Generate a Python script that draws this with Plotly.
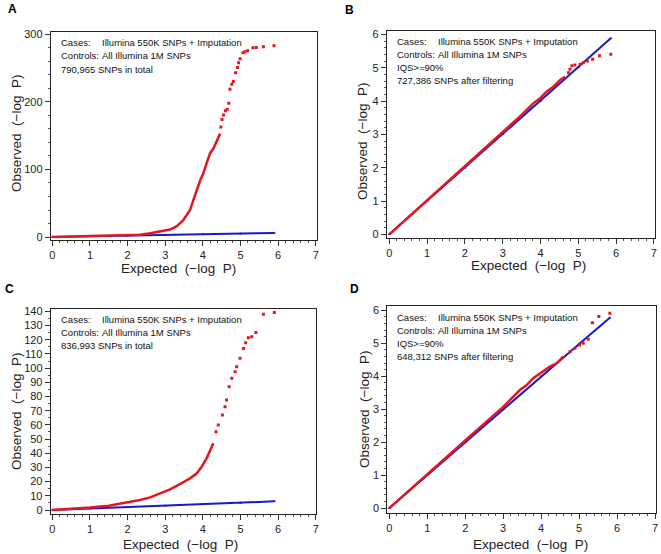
import plotly.graph_objects as go

# panel A
a_red_x = [0, 0.5, 1.0, 1.5, 2.0, 2.33, 2.6, 2.86, 3.13, 3.31, 3.48, 3.66, 3.75, 3.84, 3.93, 4.01, 4.10, 4.19, 4.28, 4.37, 4.46]
a_red_y = [0, 0.8, 1.5, 2.2, 3.0, 3.4, 5.5, 8, 11, 16, 25, 40, 55, 69.5, 84, 94, 109, 124, 131, 143.5, 153]
a_pts_x = [4.48, 4.51, 4.55, 4.60, 4.65, 4.69, 4.72, 4.77, 4.81, 4.87, 4.92, 4.95, 4.99, 5.07, 5.12, 5.19, 5.33, 5.42, 5.61, 5.89]
a_pts_y = [163, 174, 180.5, 187, 189, 198, 218.5, 226, 230, 243, 251, 258, 264, 272.6, 274, 275.6, 280, 280.6, 281.5, 283]
a_blue_x = [0, 1, 2, 3, 4, 5, 5.9]
a_blue_y = [0, 1, 2, 3, 4, 5, 6]

# panel B
b_red_x = [0, 0.5, 1, 1.5, 2, 2.5, 3, 3.5, 3.81, 3.99, 4.16, 4.34, 4.52, 4.65]
b_red_y = [0, 0.51, 1.02, 1.53, 2.04, 2.56, 3.07, 3.58, 3.93, 4.08, 4.28, 4.43, 4.63, 4.73]
b_pts_x = [4.74, 4.78, 4.83, 4.91, 5.05, 5.13, 5.24, 5.38, 5.56, 5.86]
b_pts_y = [4.85, 4.95, 5.06, 5.08, 5.10, 5.15, 5.20, 5.25, 5.36, 5.40]
b_blue_x = [0, 1, 2, 3, 4, 5, 5.86]
b_blue_y = [0, 1, 2, 3, 4, 5.01, 5.88]

# panel C
c_red_x = [0, 0.5, 1.0, 1.5, 2.06, 2.33, 2.6, 2.86, 3.13, 3.39, 3.66, 3.84, 3.97, 4.10, 4.19, 4.28]
c_red_y = [0, 0.8, 1.8, 3.0, 5.4, 7.0, 8.9, 11.7, 14.6, 18.3, 22.3, 25.9, 30.5, 36.4, 42.3, 47.0]
c_pts_x = [4.35, 4.41, 4.52, 4.59, 4.63, 4.70, 4.77, 4.86, 4.90, 4.99, 5.08, 5.14, 5.21, 5.30, 5.41, 5.61, 5.90]
c_pts_y = [55.2, 59.9, 66.9, 72.8, 77.5, 86.9, 92.8, 97.5, 101.0, 106.9, 113.9, 117.9, 121.4, 122.1, 125.2, 137.9, 139.3]
c_blue_x = [0, 1, 2, 3, 4, 5, 5.9]
c_blue_y = [0, 1, 2, 3, 4, 5, 6.1]

# panel D
d_red_x = [0, 0.5, 1, 1.5, 2, 2.5, 3, 3.44, 3.62, 3.79, 4.06, 4.23, 4.41, 4.58]
d_red_y = [0, 0.52, 1.03, 1.54, 2.05, 2.56, 3.07, 3.58, 3.73, 3.94, 4.14, 4.29, 4.39, 4.59]
d_pts_x = [4.76, 4.89, 5.01, 5.11, 5.24, 5.35, 5.52, 5.81]
d_pts_y = [4.74, 4.85, 4.95, 5.00, 5.12, 5.62, 5.81, 5.91]
d_blue_x = [0, 1, 2, 3, 4, 5, 5.81]
d_blue_y = [0, 1, 2, 3, 4, 4.98, 5.77]

RED = "rgb(225,25,30)"
BLUE = "rgb(25,25,205)"
W, H = 661, 554

panels = [
    # name, x px [l,r], y px [top,bottom], xrange, yrange, ydtick, yminor, data, notes, xtitle pos, ytitle pos, label pos
    ("A", (50.7, 316.7), (32, 240), [-0.043, 7.026], [-4.4, 303.4], 100, 20,
     (a_red_x, a_red_y, a_pts_x, a_pts_y, a_blue_x, a_blue_y),
     ["790,965 SNPs in total"], (178, 268), (16, 134), (6, 9)),
    ("B", (386.7, 655), (31, 237.7), [-0.069, 7.03], [-0.10, 6.10], 1, 0.2,
     (b_red_x, b_red_y, b_pts_x, b_pts_y, b_blue_x, b_blue_y),
     ["IQS>=90%", "727,386 SNPs after filtering"], (528, 265), (362, 142), (343, 10)),
    ("C", (50.7, 316), (308.7, 513.7), [-0.043, 7.008], [-2.6, 141.9], 10, 5,
     (c_red_x, c_red_y, c_pts_x, c_pts_y, c_blue_x, c_blue_y),
     ["836,993 SNPs in total"], (180, 544), (16, 412), (3, 289)),
    ("D", (387.3, 656), (306.3, 512.7), [-0.053, 7.026], [-0.14, 6.12], 1, 0.2,
     (d_red_x, d_red_y, d_pts_x, d_pts_y, d_blue_x, d_blue_y),
     ["IQS>=90%", "648,312 SNPs after filtering"], (530, 544), (364, 410), (348, 289)),
]

fig = go.Figure()
annotations = []
layout = {}
NOTE_FONT = dict(family="Liberation Sans, Arial", size=9.5, color="#111")
AX_FONT = dict(family="Liberation Sans, Arial", size=13.5, color="#222")

for i, (name, xp, yp, xr, yr, ydt, ymin, data, notes, xt, yt, lab) in enumerate(panels):
    n = "" if i == 0 else str(i + 1)
    xa, ya = "x" + n, "y" + n
    rx, ry, px_, py_, bx, by = data
    fig.add_trace(go.Scatter(x=bx, y=by, xaxis=xa, yaxis=ya, mode="lines+markers",
                             line=dict(color=BLUE, width=2),
                             marker=dict(color=BLUE, size=3, symbol="triangle-up")))
    fig.add_trace(go.Scatter(x=rx, y=ry, xaxis=xa, yaxis=ya, mode="lines",
                             line=dict(color=RED, width=2.5)))
    fig.add_trace(go.Scatter(x=px_, y=py_, xaxis=xa, yaxis=ya, mode="markers",
                             marker=dict(color=RED, size=3, symbol="square")))
    common = dict(showline=True, linecolor="#222", linewidth=1, mirror=True, automargin=False,
                  ticks="outside", ticklen=5, tickcolor="#333", showgrid=False,
                  zeroline=False, tickfont=dict(family="Liberation Sans, Arial", size=11, color="#222"))
    layout["xaxis" + n] = dict(common, domain=[xp[0] / W, xp[1] / W], range=xr, dtick=1, tick0=0,
                               anchor=ya, minor=dict(dtick=0.2, ticks="outside", ticklen=2, tickcolor="#555"))
    layout["yaxis" + n] = dict(common, domain=[1 - yp[1] / H, 1 - yp[0] / H], range=yr, dtick=ydt, tick0=0,
                               anchor=xa, minor=dict(dtick=ymin, ticks="outside", ticklen=2, tickcolor="#555"))
    # text box lines
    tx, ty = xp[0] + 8, yp[0] + 11
    lines = [("Cases:", "Illumina 550K SNPs + Imputation"), ("Controls:", "All Illumina 1M SNPs")]
    lines += [(t, None) for t in notes]
    for k, (lbl, val) in enumerate(lines):
        yy = 1 - (ty + 13 * k) / H
        annotations.append(dict(x=tx / W, y=yy, xref="paper", yref="paper", text=lbl, showarrow=False,
                                xanchor="left", yanchor="middle", font=NOTE_FONT))
        if val:
            annotations.append(dict(x=(tx + 41) / W, y=yy, xref="paper", yref="paper", text=val,
                                    showarrow=False, xanchor="left", yanchor="middle", font=NOTE_FONT))
    annotations.append(dict(x=xt[0] / W, y=1 - xt[1] / H, xref="paper", yref="paper",
                            text="Expected  (\u2212log  P)", showarrow=False,
                            xanchor="center", yanchor="middle", font=AX_FONT))
    annotations.append(dict(x=yt[0] / W, y=1 - yt[1] / H, xref="paper", yref="paper",
                            text="Observed  (\u2212log  P)", showarrow=False, textangle=-90,
                            xanchor="center", yanchor="middle", font=AX_FONT))
    annotations.append(dict(x=lab[0] / W, y=1 - lab[1] / H, xref="paper", yref="paper",
                            text="<b>" + name + "</b>", showarrow=False,
                            xanchor="left", yanchor="middle",
                            font=dict(family="Liberation Sans, Arial", size=12, color="#000")))

fig.update_layout(**layout)
fig.update_layout(template="none", width=W, height=H, margin=dict(l=0, r=0, t=0, b=0, pad=0),
                  paper_bgcolor="white", plot_bgcolor="white", showlegend=False,
                  annotations=annotations)

# page has a default 8px body margin; drop it so the figure fills the window
fig.write_html("out.html", config={"displayModeBar": False},
               post_script="document.body.style.margin='0';document.body.style.overflow='hidden';")
